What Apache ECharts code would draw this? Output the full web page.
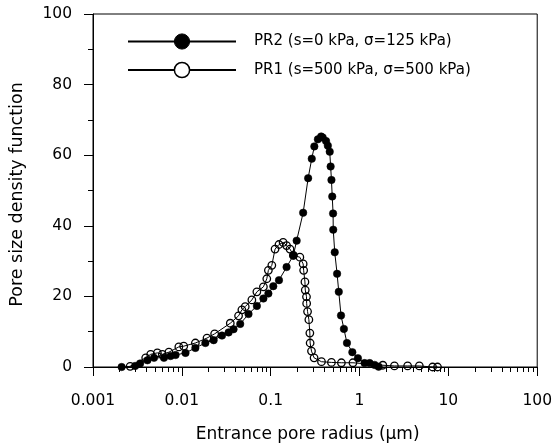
<!DOCTYPE html>
<html><head><meta charset="utf-8">
<script src="https://cdn.jsdelivr.net/npm/echarts@6/dist/echarts.min.js"></script>
<style>html,body{margin:0;padding:0;background:#fff}#c{width:555px;height:448px}</style>
</head><body><div id="c"></div>
<script>
// PR2 (s=0 kPa, σ=125 kPa) — filled circles
const pr2Radius = [0.00210,0.00298,0.00339,0.00410,0.00486,0.00629,0.00747,0.00850,0.0110,0.0142,0.0184,0.0228,0.0283,0.0336,0.0382,0.0454,0.0563,0.0699,0.0828,0.0942,0.107,0.124,0.151,0.180,0.196,0.232,0.264,0.29,0.31,0.34,0.37,0.385,0.42,0.44,0.462,0.473,0.483,0.493,0.504,0.506,0.526,0.559,0.584,0.619,0.667,0.722,0.830,0.959,1.14,1.30,1.48,1.64];
const pr2Density = [0,0.3,1.0,1.9,2.6,2.6,3.1,3.4,4.0,5.4,6.8,7.6,8.9,9.8,10.7,12.2,15.0,17.3,19.4,20.8,22.9,24.6,28.3,31.6,35.8,43.7,53.5,59,62.5,64.5,65.3,65,64,62.7,61,56.8,53,48.3,43.5,38.9,32.5,26.4,21.3,14.6,10.8,6.8,4.2,2.5,1.1,1.1,0.6,0.1];
// PR1 (s=500 kPa, σ=500 kPa) — open circles
const pr1Radius = [0.00262,0.00392,0.00446,0.00530,0.00603,0.00715,0.00925,0.0105,0.0142,0.0192,0.0234,0.0351,0.0435,0.0474,0.0517,0.0614,0.0699,0.0828,0.0904,0.0942,0.103,0.112,0.124,0.138,0.151,0.165,0.180,0.213,0.232,0.235,0.243,0.245,0.253,0.254,0.260,0.269,0.276,0.278,0.288,0.308,0.373,0.483,0.625,0.843,1.83,2.47,3.48,4.71,6.64,7.55];
const pr1Density = [0.2,2.6,3.6,4.0,3.6,4.2,5.7,5.9,6.8,8.2,9.4,12.4,14.5,16.2,17.1,19.0,21.3,22.7,25.0,27.4,28.8,33.4,34.7,35.3,34.4,33.4,31.6,31.1,29.2,27.4,24.1,21.8,19.9,18.0,15.7,13.4,9.6,6.8,4.5,2.6,1.5,1.3,1.2,1.2,0.5,0.3,0.3,0.3,0,0];
const seriesNames = ['PR2 (s=0 kPa, σ=125 kPa)', 'PR1 (s=500 kPa, σ=500 kPa)'];
const xTickLabels = ['0.001','0.01','0.1','1','10','100'];
const xMin = 0.001, xMax = 100;
const yMin = 0, yMax = 100, yInterval = 20;

const xMinorTicks = [];
for (let e = -3; e < 2; e++) for (let k = 2; k <= 9; k++) xMinorTicks.push(k * Math.pow(10, e));

const font = '"DejaVu Sans", sans-serif';
const chart = echarts.init(document.getElementById('c'), null, {renderer: 'canvas'});
const zip = (a, b) => a.map((v, i) => [v, b[i]]);
chart.setOption({
  animation: false,
  backgroundColor: '#fff',
  grid: {left: 92, right: 17, top: 14, bottom: 77, show: true, borderColor: '#000', borderWidth: 1, backgroundColor: 'transparent'},
  legend: {
    left: 127, top: 32, padding: 0, orient: 'vertical', itemWidth: 108, itemHeight: 19, itemGap: 9.5,
    textStyle: {fontFamily: font, fontSize: 15, lineHeight: 19, color: '#000', padding: [0, 0, 0, 13]},
    data: [
      {name: seriesNames[0], itemStyle: {color: '#000', borderColor: '#000', borderWidth: 1}},
      {name: seriesNames[1], itemStyle: {color: '#fff', borderColor: '#000', borderWidth: 1.5}}
    ]
  },
  xAxis: [{
    type: 'log', logBase: 10, min: xMin, max: xMax,
    name: 'Entrance pore radius (μm)', nameLocation: 'middle', nameGap: 59,
    nameTextStyle: {fontFamily: font, fontSize: 17, color: '#000', padding: [0, 15, 0, 0]},
    axisLine: {lineStyle: {color: '#000', width: 1}},
    axisTick: {show: true, inside: false, length: 9, lineStyle: {color: '#000'}},
    axisLabel: {fontFamily: font, fontSize: 15.5, color: '#000', margin: 26,
      formatter: v => xTickLabels[Math.round(Math.log10(v)) + 3]},
    splitLine: {show: false}
  }, {
    type: 'log', logBase: 10, min: xMin, max: xMax, position: 'bottom',
    axisLine: {show: false},
    axisTick: {show: true, inside: false, length: 5, customValues: xMinorTicks, lineStyle: {color: '#000'}},
    axisLabel: {show: false},
    splitLine: {show: false}
  }],
  yAxis: {
    type: 'value', min: yMin, max: yMax, interval: yInterval,
    name: 'Pore size density function', nameLocation: 'middle', nameGap: 67,
    nameTextStyle: {fontFamily: font, fontSize: 17.5, color: '#000', padding: [0, 8, 0, 0]},
    axisLine: {show: true, lineStyle: {color: '#000', width: 1}},
    axisTick: {show: true, inside: false, length: 9, lineStyle: {color: '#000'}},
    minorTick: {show: true, splitNumber: 2, length: 5, lineStyle: {color: '#000'}},
    axisLabel: {fontFamily: font, fontSize: 15.5, color: '#000', margin: 21},
    splitLine: {show: false}
  },
  series: [{
    name: seriesNames[0], type: 'line', xAxisIndex: 0, data: zip(pr2Radius, pr2Density),
    symbol: 'circle', symbolSize: 7.5,
    lineStyle: {color: '#000', width: 1},
    itemStyle: {color: '#000', borderColor: '#000', borderWidth: 0.5}
  }, {
    name: seriesNames[1], type: 'line', xAxisIndex: 0, data: zip(pr1Radius, pr1Density),
    symbol: 'circle', symbolSize: 7.5,
    lineStyle: {color: '#000', width: 1},
    itemStyle: {color: 'rgba(255,255,255,0)', borderColor: '#000', borderWidth: 1.3}
  }]
});
</script></body></html>
